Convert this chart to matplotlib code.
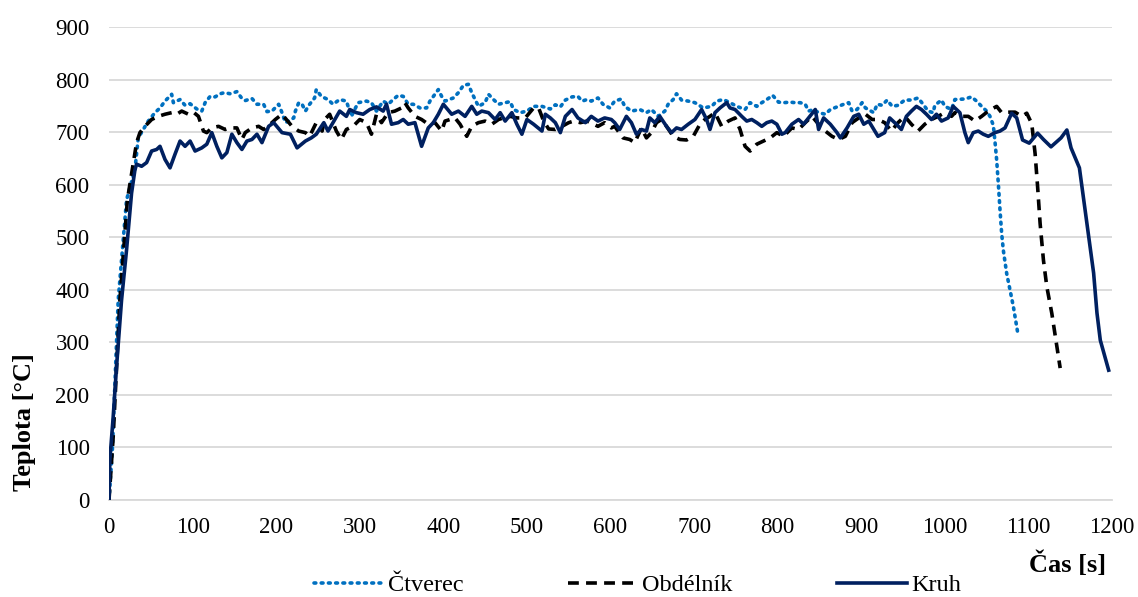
import matplotlib
matplotlib.use("Agg")
import matplotlib.pyplot as plt
import numpy as np

# (time [s], temperature [°C])
ctverec = [(0, 0), (4, 95), (11, 380), (21, 571), (31, 629), (35, 689), (47, 721), (55, 737),
           (61, 746), (67, 759), (75, 772), (77, 756), (85, 762), (91, 751), (97, 754), (105, 744),
           (111, 740), (115, 756), (121, 768), (127, 767), (133, 773), (138, 775), (145, 773),
           (153, 777), (159, 764), (163, 760), (171, 764), (177, 753), (185, 753), (189, 739),
           (195, 740), (203, 753), (207, 737), (211, 718), (215, 721), (221, 727), (223, 740),
           (227, 756), (231, 753), (235, 740), (240, 753), (246, 765), (248, 781), (254, 768),
           (262, 762), (268, 753), (276, 762), (284, 759), (290, 730), (298, 756), (308, 759),
           (314, 756), (320, 740), (328, 759), (334, 753), (340, 762), (346, 770), (352, 768),
           (358, 753), (364, 753), (372, 746), (380, 746), (384, 759), (390, 772), (394, 781),
           (398, 768), (402, 759), (412, 765), (418, 775), (424, 789), (430, 791), (434, 775),
           (438, 762), (442, 749), (450, 756), (454, 772), (460, 762), (466, 753), (474, 756),
           (480, 758), (484, 743), (492, 737), (500, 740), (508, 749), (518, 749), (528, 744),
           (534, 752), (540, 748), (546, 761), (554, 767), (561, 768), (566, 759), (572, 762),
           (577, 759), (585, 765), (591, 753), (599, 746), (605, 759), (613, 763), (617, 749),
           (625, 740), (635, 743), (643, 737), (649, 743), (657, 730), (665, 740), (669, 753),
           (675, 762), (679, 773), (685, 761), (693, 759), (701, 756), (711, 746), (721, 749),
           (727, 759), (735, 762), (743, 756), (751, 749), (761, 743), (767, 756), (775, 749),
           (781, 756), (787, 762), (794, 770), (801, 757), (807, 756), (815, 757), (821, 756),
           (827, 756), (833, 753), (837, 740), (843, 743), (849, 737), (857, 734), (863, 743),
           (871, 748), (879, 753), (885, 756), (889, 740), (895, 743), (901, 756), (905, 746),
           (915, 737), (919, 753), (925, 751), (931, 761), (937, 749), (944, 751), (952, 761),
           (960, 761), (968, 765), (974, 753), (980, 740), (986, 737), (988, 751), (996, 761),
           (1000, 749), (1008, 743), (1012, 762), (1024, 763), (1032, 767), (1038, 759),
           (1044, 749), (1050, 740), (1054, 730), (1058, 713), (1060, 682), (1062, 647),
           (1064, 602), (1066, 552), (1068, 507), (1070, 475), (1074, 431), (1078, 399),
           (1082, 368), (1087, 320)]

obdelnik = [(0, 0), (5, 120), (13, 380), (22, 571), (33, 680), (37, 699), (43, 711), (51, 724),
            (59, 730), (67, 734), (75, 737), (81, 734), (87, 740), (95, 734), (101, 738),
            (107, 730), (113, 702), (117, 699), (123, 708), (131, 711), (139, 705), (145, 708),
            (153, 708), (159, 686), (163, 699), (171, 708), (179, 711), (185, 705), (195, 718),
            (199, 724), (207, 734), (219, 711), (227, 702), (235, 699), (240, 692), (248, 718),
            (255, 702), (258, 724), (264, 734), (272, 702), (278, 686), (284, 705), (292, 711),
            (300, 724), (308, 718), (314, 696), (320, 734), (326, 718), (334, 737), (342, 740),
            (350, 746), (354, 756), (358, 746), (366, 730), (374, 724), (382, 715), (390, 718),
            (398, 702), (402, 721), (414, 727), (420, 715), (428, 692), (434, 711), (442, 718),
            (450, 721), (458, 715), (466, 724), (472, 727), (480, 730), (488, 727), (498, 727),
            (508, 746), (514, 746), (520, 721), (526, 706), (534, 705), (542, 711), (550, 718),
            (556, 721), (564, 718), (572, 721), (580, 715), (585, 711), (593, 718), (601, 708),
            (605, 711), (615, 689), (623, 686), (629, 680), (637, 708), (643, 689), (649, 699),
            (655, 718), (661, 724), (667, 711), (675, 692), (683, 686), (691, 685), (699, 692),
            (707, 715), (713, 724), (719, 730), (725, 737), (733, 711), (741, 721), (749, 727),
            (755, 705), (761, 673), (767, 664), (775, 677), (783, 683), (791, 689), (799, 699),
            (807, 692), (817, 708), (825, 705), (833, 718), (841, 730), (849, 715), (857, 702),
            (865, 692), (873, 686), (881, 692), (889, 718), (897, 727), (905, 734), (913, 724),
            (920, 724), (928, 718), (936, 702), (944, 718), (952, 730), (960, 715), (968, 702),
            (976, 715), (984, 724), (992, 730), (1000, 737), (1008, 730), (1012, 737),
            (1020, 730), (1028, 730), (1036, 721), (1044, 730), (1052, 740), (1062, 749),
            (1068, 737), (1078, 738), (1084, 738), (1092, 730), (1098, 736), (1104, 716),
            (1108, 659), (1111, 596), (1114, 526), (1118, 456), (1122, 406), (1128, 355),
            (1134, 292), (1138, 251)]

kruh = [(0, 0), (1, 76), (5, 158), (9, 253), (15, 380), (21, 476), (27, 584), (31, 628),
        (33, 639), (39, 635), (45, 642), (51, 664), (57, 667), (61, 673), (67, 648), (73, 632),
        (79, 658), (85, 683), (91, 673), (97, 683), (103, 664), (111, 670), (117, 677),
        (123, 699), (129, 673), (135, 651), (141, 661), (147, 696), (153, 680), (159, 667),
        (165, 683), (171, 686), (177, 696), (183, 680), (191, 711), (197, 718), (207, 699),
        (217, 696), (225, 670), (235, 683), (242, 689), (248, 696), (257, 718), (262, 702),
        (268, 718), (276, 740), (284, 730), (288, 743), (296, 737), (304, 734), (312, 743),
        (320, 748), (328, 740), (332, 753), (338, 715), (346, 718), (352, 724), (358, 715),
        (366, 718), (374, 673), (382, 708), (388, 718), (394, 734), (400, 753), (410, 734),
        (418, 740), (426, 730), (434, 749), (440, 734), (446, 740), (454, 737), (462, 724),
        (468, 737), (474, 721), (482, 737), (488, 715), (494, 696), (500, 724), (508, 715),
        (518, 702), (522, 734), (528, 727), (534, 718), (540, 699), (546, 730), (554, 743),
        (561, 727), (570, 718), (577, 730), (585, 721), (593, 727), (601, 724), (605, 718),
        (611, 705), (619, 730), (625, 718), (631, 696), (637, 705), (643, 702), (647, 727),
        (653, 718), (659, 730), (667, 711), (673, 699), (679, 708), (685, 705), (693, 715),
        (701, 724), (709, 743), (715, 724), (719, 705), (725, 737), (731, 746), (739, 756),
        (743, 746), (749, 743), (757, 730), (763, 721), (769, 724), (775, 718), (781, 711),
        (787, 718), (793, 721), (799, 715), (805, 696), (809, 699), (817, 715), (825, 724),
        (831, 715), (837, 727), (845, 743), (849, 705), (855, 727), (863, 715), (871, 699),
        (875, 689), (883, 708), (891, 730), (897, 734), (903, 715), (909, 721), (915, 705),
        (920, 692), (928, 699), (934, 727), (942, 715), (948, 705), (954, 730), (960, 740),
        (966, 749), (972, 743), (978, 734), (984, 724), (990, 734), (996, 721), (1004, 727),
        (1010, 749), (1018, 737), (1024, 699), (1028, 680), (1034, 699), (1040, 702),
        (1046, 696), (1052, 692), (1060, 699), (1066, 702), (1072, 708), (1080, 736),
        (1086, 727), (1093, 685), (1101, 679), (1111, 698), (1118, 686), (1127, 672),
        (1139, 689), (1146, 704), (1151, 670), (1161, 632), (1169, 538), (1178, 432),
        (1182, 356), (1186, 304), (1196, 247)]

x_ticks = list(range(0, 1201, 100))
y_ticks = list(range(0, 901, 100))

plt.rcParams["font.family"] = ["Liberation Serif", "DejaVu Serif"]

fig = plt.figure(figsize=(11.38, 5.97), dpi=100)
ax = fig.add_axes([109 / 1138, 1 - 500 / 597, 1003 / 1138, 473 / 597])

t, v = np.array(ctverec).T
ax.plot(t, v, color="#0070C0", lw=2.6, linestyle=(0, (0.5, 1.5)),
        dash_capstyle="round", label="Čtverec", zorder=3)
t, v = np.array(obdelnik).T
ax.plot(t, v, color="black", lw=2.6, linestyle=(0, (3.0, 2.0)), label="Obdélník", zorder=4)
t, v = np.array(kruh).T
ax.plot(t, v, color="#002060", lw=2.6, label="Kruh", zorder=5)

ax.set_xlim(0, 1200)
ax.set_ylim(0, 900)
ax.set_xticks(x_ticks)
ax.set_yticks(y_ticks)
ax.tick_params(length=0, labelsize=16.5, colors="black")
ax.tick_params(axis="x", pad=12)
ax.tick_params(axis="y", pad=14)
ax.grid(axis="y", color="#D9D9D9", lw=1.3)
ax.set_axisbelow(True)
for s in ["top", "right", "left"]:
    ax.spines[s].set_visible(False)
ax.spines["bottom"].set_color("#D9D9D9")
ax.spines["bottom"].set_linewidth(1.3)

fig.text(24 / 1138, 1 - 422 / 597, "Teplota [°C]", rotation=90, ha="center", va="center",
         fontsize=19, fontweight="bold")
fig.text(1068 / 1138, 1 - 564 / 597, "Čas [s]", ha="center", va="center",
         fontsize=19, fontweight="bold")

fig.legend(loc="center", bbox_to_anchor=(0.56, 1 - 585 / 597), ncol=3, frameon=False,
           fontsize=17.5, handlelength=2.9, handletextpad=0.15, columnspacing=4.3)

fig.savefig("out.png", dpi=100)
